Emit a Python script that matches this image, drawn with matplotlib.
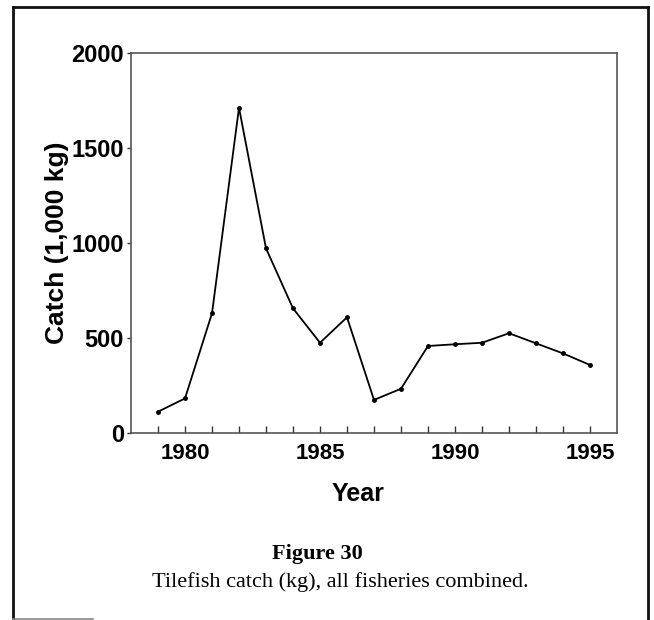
import numpy as np
import matplotlib.pyplot as plt
from matplotlib.lines import Line2D

# tilefish catch, 1,000 kg
years = [1979, 1980, 1981, 1982, 1983, 1984, 1985, 1986, 1987,
         1988, 1989, 1990, 1991, 1992, 1993, 1994, 1995]
catch = [112, 182, 630, 1712, 972, 656, 475, 609, 174,
         233, 458, 467, 475, 525, 472, 419, 358]

ytick_vals = [0, 500, 1000, 1500, 2000]
xtick_vals = [1980, 1985, 1990, 1995]

W, H = 654, 620
fig = plt.figure(figsize=(W / 100, H / 100), dpi=100)

ax = fig.add_axes([131 / W, 1 - 433 / H, (617 - 131) / W, (433 - 53) / H])
ax.plot(years, catch, color='black', lw=1.3, marker='o', ms=2.5)

ax.set_xlim(1978, 1996)
ax.set_ylim(0, 2000)
ax.set_xticks(xtick_vals)
ax.set_xticks(years, minor=True)
ax.set_yticks(ytick_vals)

sans = ['Liberation Sans', 'DejaVu Sans']
for lab in ax.get_xticklabels():
    lab.set_family(sans)
    lab.set_fontweight('bold')
    lab.set_fontsize(16)
for lab in ax.get_yticklabels():
    lab.set_family(sans)
    lab.set_fontweight('bold')
    lab.set_fontsize(17)

ax.tick_params(axis='x', which='both', direction='in', length=5, width=1, color='#333333', pad=7)
ax.tick_params(axis='y', direction='out', length=3, width=1, color='#333333', pad=2)

for s in ax.spines.values():
    s.set_color('#555555')
    s.set_linewidth(1.2)

ax.set_xlabel('Year', family=sans, fontweight='bold', fontsize=18)
ax.xaxis.set_label_coords((358 - 131) / (617 - 131), -0.13)
ax.set_ylabel('Catch (1,000 kg)', family=sans, fontweight='bold', fontsize=19)
ax.yaxis.set_label_coords((69 - 131) / (617 - 131), 0.5)

serif = ['Liberation Serif', 'DejaVu Serif']
fig.text(317 / W, 1 - 554 / H, 'Figure 30', family=serif, fontweight='bold',
         fontsize=16, ha='center', va='center')
fig.text(340 / W, 1 - 582 / H, 'Tilefish catch (kg), all fisheries combined.',
         family=serif, fontsize=16, ha='center', va='center')

# page frame
fig.add_artist(Line2D([13 / W, 13 / W], [0, 1 - 7 / H], color='#111111', lw=2, transform=fig.transFigure))
fig.add_artist(Line2D([13 / W, 648 / W], [1 - 7 / H, 1 - 7 / H], color='#111111', lw=2, transform=fig.transFigure))
fig.add_artist(Line2D([648 / W, 648 / W], [0, 1 - 7 / H], color='#111111', lw=2, transform=fig.transFigure))
fig.add_artist(Line2D([13 / W, 93 / W], [1 - 619 / H, 1 - 619 / H], color='#888888', lw=1.2, transform=fig.transFigure))

fig.savefig('out.png', dpi=100)
